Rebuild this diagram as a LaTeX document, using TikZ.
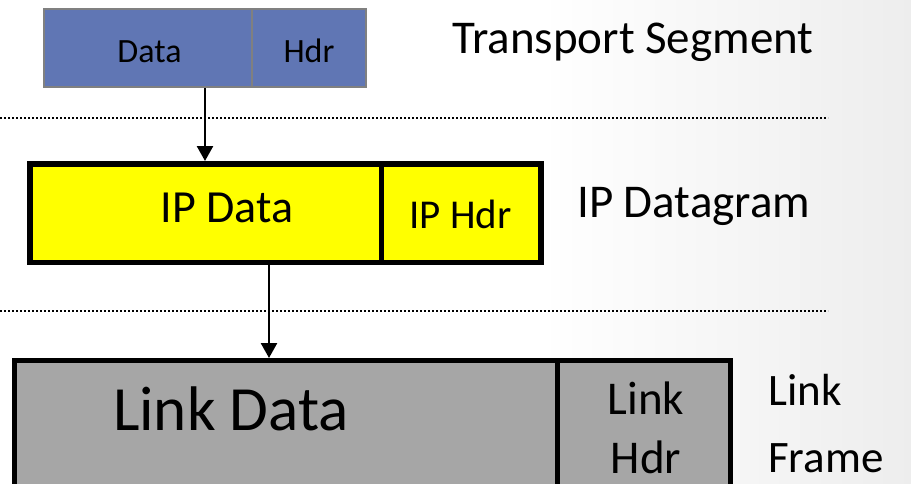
\documentclass[tikz,border=0pt]{standalone}
\usepackage{fontspec}
\setmainfont{Carlito}
\usetikzlibrary{arrows.meta,calc}
\definecolor{segblue}{RGB}{96,118,180}
\definecolor{segedge}{RGB}{128,128,128}
\definecolor{ipyellow}{RGB}{255,255,0}
\definecolor{linkgray}{RGB}{166,166,166}
\newcommand{\fs}[1]{\fontsize{#1}{#1}\selectfont}
\tikzset{
  layer line/.style={line width=2pt,dash pattern=on 2pt off 2pt},
  down arrow/.style={line width=2.5pt,-{Triangle[length=15pt,width=16pt]}},
  lbl/.style={anchor=base,inner sep=0pt},
  side lbl/.style={anchor=base west,inner sep=0pt},
}
\begin{document}
\begin{tikzpicture}[x=1pt,y=-1pt]
\clip(0,0)rectangle(911,483);
%background
\fill[white](0,0)rectangle(911,483);
\shade[left color=white,right color=black!7](540,0)rectangle(911,483);
%layer separators
\draw[layer line](0,118)--(828,118);
\draw[layer line](0,311)--(828,311);
%transport segment
\node[draw=segedge,fill=segblue,line width=2pt,minimum width=322pt,minimum height=78pt,inner sep=0pt](seg)at(205,48){};
\draw[segedge,line width=2pt](252,9)--(252,87);
\node[lbl,font=\fs{34}](segdata)at(149.5,62){Data};
\node[lbl,font=\fs{34}](seghdr)at(309,62){Hdr};
\node[side lbl,font=\fs{47}](segname)at(452,53){Transport Segment};
%ip datagram
\node[draw,fill=ipyellow,line width=5.5pt,minimum width=511pt,minimum height=98.5pt,inner sep=0pt](ipbox)at(285.5,213){};
\draw[line width=5.5pt](381.5,163.5)--(381.5,262.5);
\node[lbl,font=\fs{46}](ipdata)at(227,222){IP Data};
\node[lbl,font=\fs{41}](iphdr)at(460.5,228){IP Hdr};
\node[side lbl,font=\fs{47}](ipname)at(577,217){IP Datagram};
%link frame
\node[draw,fill=linkgray,line width=5pt,minimum width=716pt,minimum height=160pt,inner sep=0pt](link)at(372.5,440.5){};
\draw[line width=5pt](557,360)--(557,520);
\node[lbl,font=\fs{63}](linkdata)at(231,430){Link Data};
\node[lbl,font=\fs{47}](linkhdra)at(646,414){Link};
\node[lbl,font=\fs{47}](linkhdrb)at(646,473){Hdr};
\node[side lbl,font=\fs{45}](linknamea)at(768,405){Link};
\node[side lbl,font=\fs{45}](linknameb)at(768,472){Frame};
%encapsulation arrows
\draw[down arrow](seg.south)--(seg.south|-ipbox.north);
\coordinate(drop)at([xshift=-16.5pt]ipbox.south);
\draw[down arrow](drop)--(drop|-link.north);
\end{tikzpicture}
\end{document}
